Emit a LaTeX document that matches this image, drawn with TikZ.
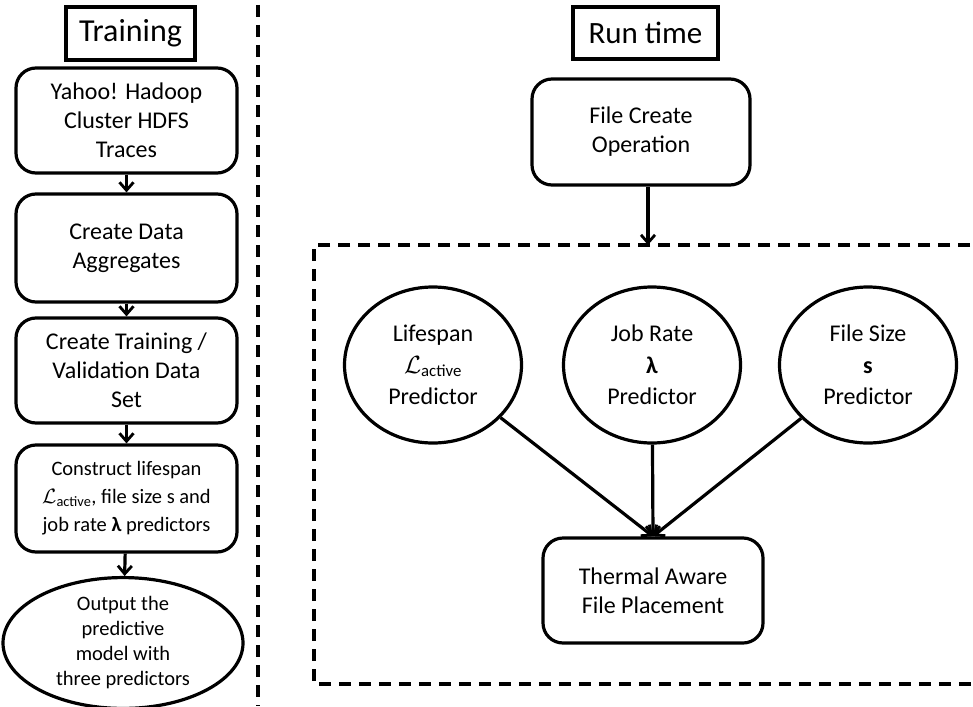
\documentclass[tikz,border=0pt]{standalone}
\usepackage{fontspec}
\setmainfont{Carlito}
\usetikzlibrary{arrows.meta,shapes.geometric}
\newcommand{\lact}{$\mathcal{L}$\textsubscript{active}}
\begin{document}
\begin{tikzpicture}[x=1pt,y=-1pt,
  every node/.style={font=\fontsize{24}{29}\selectfont, align=center, inner sep=0pt},
  titlebox/.style={draw, line width=3.2pt},
  rbox/.style={draw, line width=3.2pt, rounded corners=20pt},
  ellnode/.style={draw, ellipse, line width=3.2pt},
  arr/.style={line width=3.2pt, -{Straight Barb[length=8pt,width=14pt,line width=2.8pt]}},
  dashline/.style={line width=3.2pt, dash pattern=on 12pt off 8pt}]
\useasboundingbox (0,0) rectangle (973,706);
% Training column
\node[titlebox, minimum width=129pt, minimum height=53pt, font=\fontsize{32}{36}\selectfont] (train) at (130.5,33.5) {Training};
\node[rbox, minimum width=221pt, minimum height=105pt] (b1) at (126.5,120.5) {Yahoo! Hadoop\\Cluster HDFS\\Traces};
\node[rbox, minimum width=221pt, minimum height=108pt] (b2) at (126.5,248) {Create Data\\Aggregates};
\node[rbox, minimum width=221pt, minimum height=105pt] (b3) at (126.5,370.5) {Create Training /\\Validation Data\\Set};
\node[rbox, minimum width=221pt, minimum height=107pt, font=\fontsize{20.5}{28}\selectfont] (b4) at (126.5,498.5) {Construct lifespan\\\lact, file size s and\\job rate \textbf{λ} predictors};
\node[ellnode, minimum width=240pt, minimum height=124pt, font=\fontsize{20.5}{25}\selectfont] (out) at (123,643) {Output the\\predictive\\model with\\three predictors};
\draw[arr] (b1) -- (b2);
\draw[arr] (b2) -- (b3);
\draw[arr] (b3) -- (b4);
\draw[arr] (b4) -- (out);
% separator
\coordinate (s1) at (258,5);
\coordinate (s2) at (258,706);
\draw[dashline] (s1) -- (s2);
% Run time column
\node[titlebox, minimum width=145pt, minimum height=52pt, font=\fontsize{31}{36}\selectfont] (run) at (645.5,33) {Run time};
\node[rbox, minimum width=218pt, minimum height=106pt] (fc) at (641,132) {File Create\\Operation};
\coordinate (c1) at (990,245);
\coordinate (c2) at (314,245);
\coordinate (c3) at (314,684);
\coordinate (c4) at (990,684);
\draw[dashline] (c1) -- (c2) -- (c3) -- (c4);
\coordinate (fcend) at (648,245);
\draw[arr] (fc.south -| fcend) -- (fcend);
\node[ellnode, minimum width=177pt, minimum height=156pt, font=\fontsize{24}{31.5}\selectfont] (life) at (433,365) {Lifespan\\\lact\\Predictor};
\node[ellnode, minimum width=177pt, minimum height=156pt, font=\fontsize{24}{31.5}\selectfont] (job) at (652,365) {Job Rate\\\textbf{λ}\\Predictor};
\node[ellnode, minimum width=177pt, minimum height=156pt, font=\fontsize{24}{31.5}\selectfont] (fs) at (868,365) {File Size\\\textbf{s}\\Predictor};
\node[rbox, minimum width=220pt, minimum height=105pt] (tafp) at (653,590.5) {Thermal Aware\\File Placement};
\draw[arr] (life) -- (tafp.north);
\draw[arr] (job) -- (tafp.north);
\draw[arr] (fs) -- (tafp.north);
\end{tikzpicture}
\end{document}
